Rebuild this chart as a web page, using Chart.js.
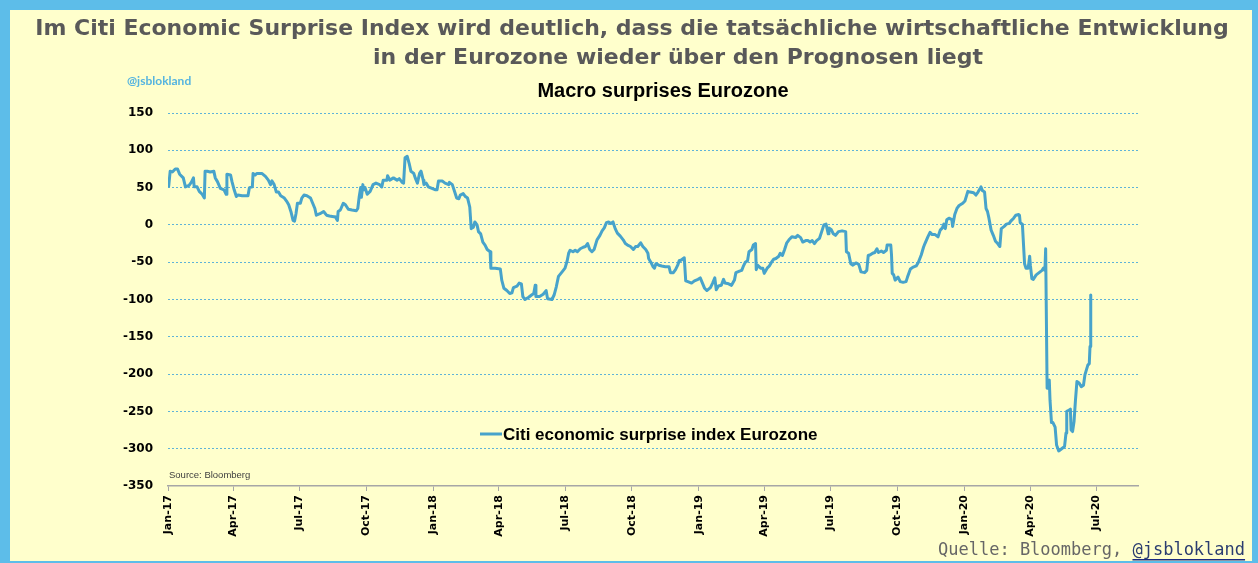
<!DOCTYPE html>
<html>
<head>
<meta charset="utf-8">
<script src="https://cdn.jsdelivr.net/npm/chart.js@4.4.1/dist/chart.umd.min.js"></script>
<style>
  html, body { margin: 0; padding: 0; background: #ffffcc; overflow: hidden; }
  canvas { display: block; }
</style>
</head>
<body>
<canvas id="chart" width="1258" height="563"></canvas>
<script>
const seriesLabel = 'Citi economic surprise index Eurozone'

// Citi economic surprise index Eurozone
const dates = [
  '2017-01-02','2017-01-04','2017-01-07','2017-01-11','2017-01-14','2017-01-17','2017-01-22','2017-01-25','2017-01-30',
  '2017-02-02','2017-02-05','2017-02-06','2017-02-10','2017-02-13','2017-02-17','2017-02-20','2017-02-21','2017-02-24','2017-02-28',
  '2017-03-05','2017-03-07','2017-03-10','2017-03-14','2017-03-19','2017-03-22','2017-03-23','2017-03-28','2017-03-30',
  '2017-04-02','2017-04-05','2017-04-07','2017-04-13','2017-04-21','2017-04-23','2017-04-27','2017-04-28',
  '2017-05-01','2017-05-03','2017-05-10','2017-05-15','2017-05-19','2017-05-22','2017-05-24','2017-05-27','2017-05-30',
  '2017-06-02','2017-06-05','2017-06-10','2017-06-13','2017-06-16','2017-06-19','2017-06-22','2017-06-24','2017-06-26','2017-06-28',
  '2017-07-02','2017-07-04','2017-07-07','2017-07-11','2017-07-16','2017-07-19','2017-07-22','2017-07-24','2017-07-29',
  '2017-08-03','2017-08-07','2017-08-11','2017-08-17','2017-08-19','2017-08-22','2017-08-23','2017-08-26','2017-08-30',
  '2017-09-02','2017-09-06','2017-09-11','2017-09-17','2017-09-19','2017-09-21','2017-09-23','2017-09-24','2017-09-26','2017-09-27','2017-09-29',
  '2017-10-02','2017-10-06','2017-10-10','2017-10-14','2017-10-19','2017-10-22','2017-10-24','2017-10-29','2017-10-30',
  '2017-11-02','2017-11-07','2017-11-12','2017-11-15','2017-11-19','2017-11-21','2017-11-23','2017-11-26','2017-11-29',
  '2017-12-01','2017-12-05','2017-12-07','2017-12-10','2017-12-13','2017-12-15','2017-12-18','2017-12-19','2017-12-22','2017-12-25','2017-12-30',
  '2018-01-04','2018-01-06','2018-01-08','2018-01-13','2018-01-17','2018-01-22','2018-01-23','2018-01-27','2018-01-30',
  '2018-02-02','2018-02-05','2018-02-07','2018-02-11','2018-02-14','2018-02-17','2018-02-20','2018-02-22','2018-02-25','2018-02-27',
  '2018-03-02','2018-03-04','2018-03-07','2018-03-10','2018-03-13','2018-03-16','2018-03-20','2018-03-21','2018-03-27',
  '2018-04-03','2018-04-05','2018-04-08','2018-04-12','2018-04-16','2018-04-19','2018-04-21','2018-04-26','2018-04-29',
  '2018-05-02','2018-05-04','2018-05-07','2018-05-12','2018-05-16','2018-05-19','2018-05-21','2018-05-22','2018-05-27',
  '2018-06-01','2018-06-05','2018-06-07','2018-06-13','2018-06-16','2018-06-19','2018-06-22','2018-06-27',
  '2018-07-01','2018-07-04','2018-07-06','2018-07-08','2018-07-12','2018-07-15','2018-07-18','2018-07-22','2018-07-26','2018-07-29',
  '2018-08-01','2018-08-04','2018-08-07','2018-08-10','2018-08-14','2018-08-18','2018-08-21','2018-08-24','2018-08-27','2018-08-30',
  '2018-09-02','2018-09-05','2018-09-08','2018-09-11','2018-09-15','2018-09-19','2018-09-22','2018-09-25','2018-09-29',
  '2018-10-03','2018-10-06','2018-10-09','2018-10-13','2018-10-16','2018-10-20','2018-10-23','2018-10-24','2018-10-27','2018-10-30',
  '2018-11-01','2018-11-03','2018-11-07','2018-11-11','2018-11-16','2018-11-21','2018-11-23','2018-11-27','2018-11-30',
  '2018-12-03','2018-12-05','2018-12-08','2018-12-12','2018-12-14','2018-12-17','2018-12-22','2018-12-26','2018-12-31',
  '2019-01-03','2019-01-06','2019-01-09','2019-01-12','2019-01-17','2019-01-20','2019-01-23','2019-01-25','2019-01-28',
  '2019-02-01','2019-02-04','2019-02-06','2019-02-11','2019-02-15','2019-02-19','2019-02-21','2019-02-26',
  '2019-03-01','2019-03-03','2019-03-06','2019-03-09','2019-03-11','2019-03-15','2019-03-17','2019-03-20','2019-03-21','2019-03-23','2019-03-27','2019-03-30',
  '2019-04-01','2019-04-05','2019-04-08','2019-04-11','2019-04-14','2019-04-17','2019-04-21','2019-04-23','2019-04-26','2019-04-29',
  '2019-05-02','2019-05-05','2019-05-09','2019-05-14','2019-05-17','2019-05-21','2019-05-24','2019-05-28','2019-05-31',
  '2019-06-03','2019-06-06','2019-06-09','2019-06-12','2019-06-16','2019-06-19','2019-06-22','2019-06-25','2019-06-28','2019-06-29',
  '2019-07-02','2019-07-05','2019-07-08','2019-07-12','2019-07-17','2019-07-22','2019-07-23','2019-07-26','2019-07-29',
  '2019-08-01','2019-08-05','2019-08-09','2019-08-12','2019-08-17','2019-08-20','2019-08-22','2019-08-25','2019-08-28','2019-08-31',
  '2019-09-03','2019-09-05','2019-09-09','2019-09-12','2019-09-16','2019-09-17','2019-09-22','2019-09-23','2019-09-24','2019-09-26','2019-09-28',
  '2019-10-02','2019-10-05','2019-10-09','2019-10-13','2019-10-15','2019-10-19','2019-10-22','2019-10-27','2019-10-30',
  '2019-11-03','2019-11-06','2019-11-08','2019-11-12','2019-11-15','2019-11-18','2019-11-22','2019-11-26','2019-11-29',
  '2019-12-02','2019-12-04','2019-12-06','2019-12-08','2019-12-11','2019-12-15','2019-12-16','2019-12-19','2019-12-22','2019-12-25','2019-12-30',
  '2020-01-02','2020-01-06','2020-01-09','2020-01-14','2020-01-17','2020-01-20','2020-01-23','2020-01-24','2020-01-26','2020-01-29','2020-01-31',
  '2020-02-02','2020-02-04','2020-02-07','2020-02-10','2020-02-13','2020-02-16','2020-02-19','2020-02-21','2020-02-25','2020-02-28',
  '2020-03-03','2020-03-05','2020-03-09','2020-03-12','2020-03-16','2020-03-17','2020-03-18','2020-03-21','2020-03-24','2020-03-26','2020-03-29','2020-03-31',
  '2020-04-01','2020-04-03','2020-04-05','2020-04-09','2020-04-13','2020-04-17','2020-04-19','2020-04-21','2020-04-22','2020-04-24','2020-04-25','2020-04-27','2020-04-28','2020-04-30',
  '2020-05-02','2020-05-05','2020-05-07','2020-05-10','2020-05-14','2020-05-18','2020-05-20','2020-05-21','2020-05-23','2020-05-26','2020-05-27','2020-05-29','2020-05-31',
  '2020-06-02','2020-06-04','2020-06-07','2020-06-10','2020-06-13','2020-06-15','2020-06-19','2020-06-21','2020-06-22','2020-06-23'
]
const values = [
  52,72,71,75,75,68,63,51,53,
  57,63,51,51,45,41,36,72,72,71,
  72,63,58,49,47,41,68,67,58,
  47,38,40,39,39,50,51,69,
  67,69,69,65,60,54,59,54,44,
  44,39,36,32,27,18,6,5,15,29,
  29,36,40,39,36,29,22,13,15,
  18,13,12,11,11,6,18,20,29,
  27,21,20,19,22,38,50,37,54,47,50,
  41,45,54,56,54,51,60,60,66,
  60,63,60,62,57,56,90,92,81,
  72,69,63,56,69,72,60,54,56,51,49,
  47,47,59,59,56,54,57,54,45,
  36,35,40,42,38,36,24,-5,-3,4,
  0,-9,-12,-23,-27,-33,-36,-58,-58,
  -59,-74,-85,-88,-92,-91,-84,-82,-78,
  -79,-96,-100,-97,-94,-92,-81,-96,-96,
  -93,-88,-99,-100,-94,-83,-69,-63,
  -58,-48,-38,-34,-36,-34,-36,-32,-30,-29,
  -25,-33,-36,-33,-20,-14,-8,-4,3,4,
  2,4,-5,-11,-15,-20,-25,-27,-29,
  -33,-29,-29,-24,-29,-33,-38,-45,-50,-56,
  -58,-52,-54,-55,-56,-56,-64,-64,-60,
  -54,-48,-47,-44,-75,-76,-78,-75,-73,
  -71,-78,-85,-88,-84,-78,-71,-87,-82,
  -81,-73,-78,-79,-81,-74,-64,-62,
  -61,-56,-50,-48,-36,-33,-27,-25,-60,-54,-58,-58,
  -65,-58,-55,-50,-46,-45,-42,-38,-41,-33,
  -24,-20,-16,-17,-14,-17,-23,-21,-21,
  -23,-21,-25,-21,-18,-9,0,1,-12,-4,
  -6,-12,-14,-9,-8,-9,-36,-38,-52,
  -54,-51,-53,-63,-64,-61,-41,-40,-38,-37,
  -32,-37,-35,-37,-34,-27,-27,-40,-65,-67,-74,
  -70,-76,-77,-76,-70,-59,-57,-55,-50,
  -40,-30,-25,-16,-10,-13,-13,-16,-7,
  -4,1,-5,7,9,7,-2,14,22,26,29,
  32,45,44,43,40,44,49,51,46,44,22,
  18,9,-7,-14,-22,-25,-29,-5,-2,1,
  2,5,9,13,14,13,3,1,-52,-58,-58,-42,
  -54,-72,-73,-67,-64,-61,-58,-61,-32,-219,-210,-208,-235,-265,
  -265,-271,-295,-303,-300,-297,-279,-250,-249,-247,-275,-277,-264,
  -235,-210,-212,-217,-215,-201,-188,-186,-163,-94
]

const tickDates = ['2017-01-01','2017-04-01','2017-07-01','2017-10-01','2018-01-01','2018-04-01','2018-07-01','2018-10-01',
  '2019-01-01','2019-04-01','2019-07-01','2019-10-01','2020-01-01','2020-04-01','2020-07-01']
const tickLabels = ['Jan-17','Apr-17','Jul-17','Oct-17','Jan-18','Apr-18','Jul-18','Oct-18',
  'Jan-19','Apr-19','Jul-19','Oct-19','Jan-20','Apr-20','Jul-20']
const axisStart = '2017-01-01'
const axisEnd = '2020-08-27'

const DAY = 86400000
const dayOf = s => (Date.parse(s) - Date.parse(axisStart)) / DAY

const lineColor = '#47a3cb'

const slidePlugin = {
  id: 'slide',
  beforeDraw(chart) {
    const { ctx, width, height } = chart
    ctx.save()
    ctx.fillStyle = '#ffffcc'
    ctx.fillRect(0, 0, width, height)
    // light blue frame
    ctx.fillStyle = '#5dbde9'
    ctx.fillRect(0, 0, width, 10)
    ctx.fillRect(0, 0, 10, height)
    ctx.fillRect(width - 6, 0, 6, height)
    ctx.fillRect(0, height - 2, width, 2)
    ctx.restore()
  },
  afterDraw(chart) {
    const ctx = chart.ctx
    ctx.save()
    ctx.textBaseline = 'alphabetic'

    // slide title
    ctx.fillStyle = '#595959'
    ctx.font = 'bold 22px "DejaVu Sans"'
    ctx.textAlign = 'center'
    ctx.fillText('Im Citi Economic Surprise Index wird deutlich, dass die tatsächliche wirtschaftliche Entwicklung', 632, 35)
    ctx.fillText('in der Eurozone wieder über den Prognosen liegt', 678, 64)

    // chart title
    ctx.fillStyle = '#000'
    ctx.font = 'bold 20px "Liberation Sans"'
    ctx.fillText('Macro surprises Eurozone', 663, 97)

    // handle top left
    ctx.textAlign = 'left'
    ctx.fillStyle = '#55b4e0'
    ctx.font = 'bold 12px Lato'
    ctx.fillText('@jsblokland', 127, 85)

    // source inside chart
    ctx.fillStyle = '#404040'
    ctx.font = '9.5px "Liberation Sans"'
    ctx.fillText('Source: Bloomberg', 169, 478)

    // legend inside the plot
    const ds = chart.data.datasets[0]
    ctx.strokeStyle = ds.borderColor
    ctx.lineWidth = 3
    ctx.beginPath()
    ctx.moveTo(480, 434)
    ctx.lineTo(502, 434)
    ctx.stroke()
    ctx.fillStyle = '#000'
    ctx.font = 'bold 17px "Liberation Sans"'
    ctx.fillText(ds.label, 503, 440)

    // slide footer
    ctx.font = '17px "DejaVu Sans Mono"'
    ctx.fillStyle = '#666'
    const q = 'Quelle: Bloomberg, '
    const qx = 938
    ctx.fillText(q, qx, 555)
    const hx = qx + ctx.measureText(q).width
    ctx.fillStyle = '#2b3d70'
    ctx.fillText('@jsblokland', hx, 555)
    const hw = ctx.measureText('@jsblokland').width
    ctx.fillStyle = '#1b2a80'
    ctx.fillRect(hx, 559, hw, 1.5)
    ctx.restore()
  }
}

new Chart(document.getElementById('chart'), {
  type: 'line',
  plugins: [slidePlugin],
  data: {
    datasets: [{
      label: seriesLabel,
      data: dates.map((d, i) => ({ x: dayOf(d), y: values[i] })),
      borderColor: lineColor,
      borderWidth: 3,
      pointRadius: 0,
      tension: 0,
      borderJoinStyle: 'round',
      borderCapStyle: 'round',
      fill: false,
    }]
  },
  options: {
    responsive: false,
    animation: false,
    layout: { padding: { top: 113, right: 120, bottom: 0, left: 0 } },
    scales: {
      x: {
        type: 'linear',
        min: 0,
        max: dayOf(axisEnd),
        afterBuildTicks(scale) {
          scale.ticks = tickDates.map(d => ({ value: dayOf(d) }))
        },
        afterFit(scale) { scale.height = 77 },
        grid: { drawOnChartArea: false, drawTicks: true, tickLength: 5, color: '#a6a6a6' },
        border: { display: true, color: '#a6a6a6', width: 1.5 },
        ticks: {
          autoSkip: false,
          minRotation: 90,
          maxRotation: 90,
          padding: 4,
          color: '#000',
          font: { family: 'DejaVu Sans', weight: 'bold', size: 11 },
          callback(value, i) { return tickLabels[i] }
        }
      },
      y: {
        min: -350,
        max: 150,
        afterFit(scale) { scale.width = 168 },
        grid: {
          drawTicks: false,
          lineWidth: 1,
          color: ctx => ctx.tick && ctx.tick.value === -350 ? 'rgba(0,0,0,0)' : '#5fb3d8'
        },
        border: { display: false, dash: [2, 2] },
        ticks: {
          stepSize: 50,
          padding: 15,
          color: '#000',
          font: { family: 'DejaVu Sans', weight: 'bold', size: 12 }
        }
      }
    },
    plugins: {
      legend: { display: false },
      tooltip: { enabled: false },
      title: { display: false }
    }
  }
})
</script>
</body>
</html>
